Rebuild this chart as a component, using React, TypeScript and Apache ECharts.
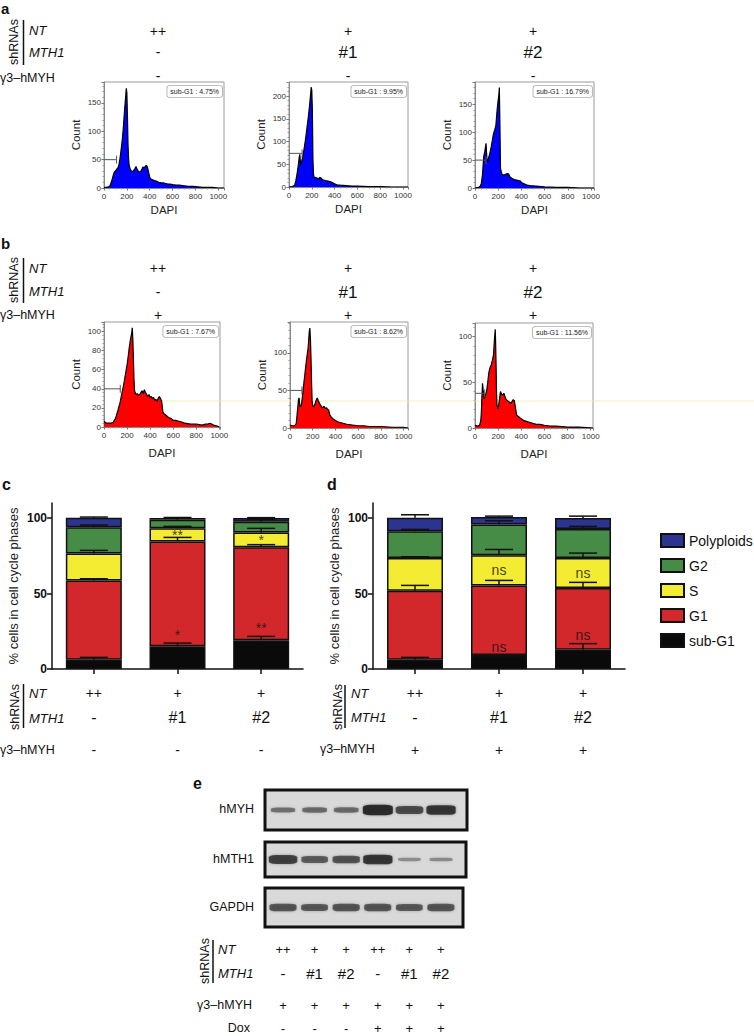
import React, { useEffect, useRef } from "react";
import * as echarts from "echarts";

const FONT = "Liberation Sans";

// ---------- Panel a / b : DNA content histograms [DAPI, Count] ----------
const histA1 = [[0,1],[20,1],[40,2],[50,3],[60,8],[70,14],[80,22],[90,28],[100,30],[110,33],[120,35],[130,40],[140,52],[150,68],[160,85],[170,108],[180,138],[185,150],[190,162],[195,176],[200,168],[205,128],[210,78],[215,52],[220,40],[230,33],[240,30],[250,29],[260,31],[270,34],[280,38],[290,33],[300,30],[310,28],[320,29],[330,32],[340,37],[350,35],[360,38],[370,40],[380,37],[390,28],[400,19],[410,16],[420,15],[440,13],[460,12],[480,10],[500,9],[520,9],[540,8],[560,7],[580,7],[600,6],[630,5],[660,5],[700,4],[740,3],[780,3],[820,2],[860,1],[900,1],[950,1],[1000,0],[1050,0]];
const histA2 = [[0,0],[30,1],[50,4],[60,14],[70,28],[80,45],[90,66],[95,72],[100,55],[105,48],[110,55],[120,66],[130,80],[140,96],[150,115],[160,135],[170,155],[180,178],[185,192],[190,205],[195,220],[200,212],[205,170],[210,60],[215,28],[220,22],[240,20],[260,18],[270,21],[280,20],[290,17],[300,15],[320,14],[340,13],[360,12],[380,10],[400,7],[420,5],[450,4],[500,3],[550,2],[600,2],[700,1],[800,1],[900,0],[1044,0]];
const histA3 = [[0,0],[30,1],[45,3],[55,8],[65,25],[75,56],[85,66],[95,80],[100,62],[105,45],[110,48],[120,56],[130,64],[140,74],[150,86],[160,98],[170,104],[180,112],[190,138],[200,158],[205,165],[210,180],[215,110],[220,35],[230,26],[240,23],[260,24],[280,26],[290,25],[300,20],[320,17],[340,15],[360,14],[380,13],[390,13],[400,10],[420,8],[450,5],[480,4],[500,4],[550,3],[600,2],[700,1],[800,1],[900,0],[1026,0]];
const histB1 = [[0,6],[20,4],[40,4],[60,4],[80,5],[100,9],[120,17],[140,26],[150,32],[160,38],[170,44],[180,51],[190,58],[200,65],[210,74],[220,84],[230,92],[240,98],[245,104],[250,92],[255,72],[260,50],[265,38],[270,36],[280,34],[290,35],[300,33],[310,34],[320,36],[330,38],[340,35],[350,39],[360,36],[370,34],[380,32],[390,34],[400,31],[410,32],[420,30],[430,31],[440,28],[450,29],[460,27],[470,30],[480,32],[490,30],[500,27],[505,22],[510,16],[520,14],[540,12],[560,10],[580,9],[600,7],[620,7],[650,6],[680,5],[700,4],[750,3],[800,3],[850,2],[880,3],[900,3],[920,4],[950,2],[980,1],[1000,0]];
const histB2 = [[0,4],[20,3],[40,3],[55,6],[65,22],[75,38],[80,40],[85,32],[90,28],[100,30],[110,42],[120,57],[130,70],[140,84],[150,96],[160,107],[165,118],[170,129],[175,133],[180,118],[185,93],[190,60],[195,35],[200,30],[210,28],[220,32],[230,37],[240,40],[250,36],[260,33],[270,30],[280,28],[290,27],[300,29],[310,26],[320,27],[330,25],[340,24],[350,18],[360,15],[380,12],[400,10],[425,8],[450,7],[475,6],[500,5],[550,4],[600,3],[650,3],[700,2],[800,2],[900,1],[1000,1],[1039,0]];
const histB3 = [[0,3],[20,2],[40,3],[50,8],[55,17],[60,35],[65,49],[70,42],[80,32],[90,36],[100,40],[110,50],[120,61],[130,66],[140,69],[150,74],[160,80],[165,91],[170,100],[175,108],[178,95],[182,70],[186,40],[190,25],[200,21],[210,30],[220,40],[230,37],[240,36],[250,38],[260,34],[270,31],[280,30],[290,29],[300,28],[310,27],[320,29],[330,31],[340,30],[350,22],[360,14],[380,12],[400,10],[425,8],[450,7],[475,6],[500,5],[530,4],[560,4],[600,3],[650,2],[700,2],[800,1],[900,1],[1020,0]];

const subG1Labels = ["4.75%", "9.95%", "16.79%", "7.67%", "8.62%", "11.56%"];
// sub-G1 gate: [upper DAPI bound, count level of the marker]
const gates = [[110, 50], [115, 74], [95, 50], [141, 40], [105, 50], [84, 38]];

const headNT = ["++", "+", "+"];
const headMTH1 = ["-", "#1", "#2"];
const headHmyhA = ["-", "-", "-"];
const headHmyhB = ["+", "+", "+"];

// ---------- Panel c / d : cell cycle phases (%) ----------
const barCats = ["ctrl", "sh1", "sh2"];
const phaseNames = ["sub-G1", "G1", "S", "G2", "Polyploids"];
const phaseColors = ["#0a0a0a", "#d2282b", "#f4ec32", "#478c46", "#2b3590"];

const cSubG1 = [6.2, 15.0, 19.0];
const cG1 = [52.5, 69.5, 61.6];
const cS = [17.9, 8.7, 9.9];
const cG2 = [17.4, 5.7, 7.1];
const cPoly = [6.2, 1.1, 2.4];
const cSubG1Err = [1.5, 2.2, 2.6];
const cG1Err = [1.1, 2.7, 1.8];
const cSErr = [2.0, 1.3, 2.7];
const cG2Err = [1.4, 1.5, 1.6];
const cPolyErr = [0.5, 0.0, 0.3];
const cSigG1 = ["", "*", "**"];
const cSigS = ["", "**", "*"];

const dSubG1 = [6.2, 9.3, 12.8];
const dG1 = [45.7, 46.1, 40.8];
const dS = [21.6, 19.9, 19.9];
const dG2 = [17.7, 20.5, 19.2];
const dPoly = [9.0, 4.9, 7.3];
const dSubG1Err = [1.5, 0.0, 4.0];
const dG1Err = [3.5, 3.3, 3.8];
const dSErr = [0.9, 3.9, 3.3];
const dG2Err = [1.3, 2.4, 1.8];
const dPolyErr = [2.0, 0.6, 1.3];
const dSigG1 = ["", "ns", "ns"];
const dSigS = ["", "ns", "ns"];

const barNT = ["++", "+", "+"];
const barMTH1 = ["-", "#1", "#2"];
const barHmyhC = ["-", "-", "-"];
const barHmyhD = ["+", "+", "+"];
const barTicks = [0, 50, 100];

// ---------- Panel e : western blot band intensities (0..1) ----------
const blotNames = ["hMYH", "hMTH1", "GAPDH"];
const blotMYH = [0.3, 0.35, 0.35, 1.0, 0.7, 0.9];
const blotMTH1 = [0.8, 0.55, 0.65, 0.9, 0.1, 0.12];
const blotGAPDH = [0.62, 0.58, 0.62, 0.62, 0.58, 0.62];
const eNT = ["++", "+", "+", "++", "+", "+"];
const eMTH1 = ["-", "#1", "#2", "-", "#1", "#2"];
const eHmyh = ["+", "+", "+", "+", "+", "+"];
const eDox = ["-", "-", "-", "+", "+", "+"];

// ---------- layout ----------
const HIST = [
  { left: 104, top: 82, width: 120, height: 106, xMax: 1050, yMax: 187, yInt: 50, fill: "#0000ff" },
  { left: 289, top: 82, width: 119, height: 105, xMax: 1044, yMax: 231, yInt: 50, fill: "#0000ff" },
  { left: 475, top: 82, width: 119, height: 106, xMax: 1026, yMax: 190, yInt: 50, fill: "#0000ff" },
  { left: 104, top: 322, width: 116, height: 105, xMax: 1006, yMax: 110, yInt: 20, fill: "#ff0000" },
  { left: 290, top: 322, width: 118, height: 106, xMax: 1039, yMax: 141, yInt: 50, fill: "#ff0000" },
  { left: 475, top: 323, width: 118, height: 105, xMax: 1020, yMax: 115, yInt: 50, fill: "#ff0000" },
];
const BARS = [
  { left: 52, top: 503, width: 251, height: 166 },
  { left: 373, top: 503, width: 252, height: 166 },
];
const BLOTS = [
  { left: 265, top: 790, width: 202, height: 40, xMax: 6.82 },
  { left: 265, top: 842, width: 201, height: 35, xMax: 6.79 },
  { left: 265, top: 888, width: 198, height: 39, xMax: 6.7 },
];

function txt(text: string, x: number, y: number, o: any = {}) {
  return {
    type: "text",
    x,
    y,
    rotation: o.rot || 0,
    z: 10,
    style: {
      text,
      fontFamily: FONT,
      fontSize: o.size || 13,
      fontStyle: o.italic ? "italic" : "normal",
      fontWeight: o.bold ? "bold" : "normal",
      fill: o.fill || "#111",
      align: o.align || "left",
      verticalAlign: "middle",
    },
  };
}
function vline(x: number, y1: number, y2: number, w = 1.5, c = "#111") {
  return { type: "line", z: 10, shape: { x1: x, y1, x2: x, y2 }, style: { stroke: c, lineWidth: w } };
}
function shrnaBlock(shX: number, shY: number, lineX: number, l1: number, l2: number, tx: number, yNT: number, yM: number) {
  return [
    txt("shRNAs", shX, shY, { rot: Math.PI / 2, align: "center", size: 12.5 }),
    vline(lineX, l1, l2),
    txt("NT", tx, yNT, { italic: true, size: 13 }),
    txt("MTH1", tx, yM, { italic: true, size: 13 }),
  ];
}

export default function App() {
  const ref = useRef<HTMLDivElement>(null);

  useEffect(() => {
    if (!ref.current) return;
    const chart = echarts.init(ref.current, null, { renderer: "svg" });

    const histData = [histA1, histA2, histA3, histB1, histB2, histB3];
    const grids: any[] = [];
    const xAxes: any[] = [];
    const yAxes: any[] = [];
    const series: any[] = [];
    const graphic: any[] = [];

    // ---- histograms ----
    HIST.forEach((h, i) => {
      grids.push({ left: h.left, top: h.top, width: h.width, height: h.height, show: true, borderColor: "#9a9a9a", borderWidth: 1, backgroundColor: "#fff" });
      xAxes.push({
        gridIndex: i, type: "value", min: 0, max: h.xMax, interval: 200,
        axisLine: { show: true, lineStyle: { color: "#888", width: 1 } },
        axisTick: { show: true, length: 2.5, lineStyle: { color: "#777" } },
        minorTick: { show: true, splitNumber: 4, length: 1.5, lineStyle: { color: "#999" } },
        axisLabel: { fontSize: 8, color: "#333", margin: 4, showMaxLabel: false, fontFamily: FONT, formatter: (v: number) => String(v) },
        splitLine: { show: false },
        name: "DAPI", nameLocation: "middle", nameGap: i < 3 ? 16 : 20,
        nameTextStyle: { fontSize: 11.5, color: "#222", fontFamily: FONT },
      });
      yAxes.push({
        gridIndex: i, type: "value", min: 0, max: h.yMax, interval: h.yInt,
        axisLine: { show: true, lineStyle: { color: "#888", width: 1 } },
        axisTick: { show: true, length: 2.5, lineStyle: { color: "#777" } },
        minorTick: { show: true, splitNumber: 5, length: 1.5, lineStyle: { color: "#999" } },
        axisLabel: { fontSize: 8, color: "#333", margin: 3, showMaxLabel: false, fontFamily: FONT },
        splitLine: { show: false },
        name: "Count", nameLocation: "middle", nameGap: 22,
        nameTextStyle: { fontSize: 11.5, color: "#222", fontFamily: FONT },
      });
      series.push({
        type: "line", xAxisIndex: i, yAxisIndex: i, data: histData[i], showSymbol: false, symbol: "none",
        lineStyle: { color: "#000", width: 1.2 }, areaStyle: { color: h.fill, opacity: 1 }, z: 2, silent: true,
      });
      const g = gates[i];
      const half = (4 * h.yMax) / h.height;
      series.push({
        type: "line", xAxisIndex: i, yAxisIndex: i, data: [[0, g[1]], [g[0], g[1]]], symbol: "none",
        lineStyle: { color: "#555", width: 1 }, z: 3, silent: true,
      });
      series.push({
        type: "line", xAxisIndex: i, yAxisIndex: i, data: [[g[0], g[1] - half], [g[0], g[1] + half]], symbol: "none",
        lineStyle: { color: "#555", width: 1 }, z: 3, silent: true,
      });
      graphic.push({
        type: "text", x: h.left + h.width - 2, y: h.top + 4, z: 10,
        style: {
          text: "sub-G1 : " + subG1Labels[i], fontFamily: FONT, fontSize: 7, fill: "#222",
          align: "right", verticalAlign: "top", backgroundColor: "#fff", borderColor: "#aaa",
          borderWidth: 0.8, borderRadius: 2, padding: [2, 3],
        },
      });
    });

    // ---- stacked bars ----
    const barSets = [
      { vals: [cSubG1, cG1, cS, cG2, cPoly], errs: [cSubG1Err, cG1Err, cSErr, cG2Err, cPolyErr], sigG1: cSigG1, sigS: cSigS, hmyh: barHmyhC },
      { vals: [dSubG1, dG1, dS, dG2, dPoly], errs: [dSubG1Err, dG1Err, dSErr, dG2Err, dPolyErr], sigG1: dSigG1, sigS: dSigS, hmyh: barHmyhD },
    ];
    barSets.forEach((set, k) => {
      const gi = 6 + k;
      const b = BARS[k];
      grids.push({ left: b.left, top: b.top, width: b.width, height: b.height });
      xAxes.push({
        gridIndex: gi, type: "category", data: barCats,
        axisLine: { show: true, lineStyle: { color: "#111", width: 1.5 } },
        axisTick: { show: true, alignWithLabel: true, length: 5, lineStyle: { color: "#111", width: 1.5 } },
        axisLabel: {
          interval: 0, margin: 13, fontFamily: FONT,
          formatter: (_v: string, idx: number) => `{n|${barNT[idx]}}\n{m|${barMTH1[idx]}}\n{g|${set.hmyh[idx]}}`,
          rich: {
            n: { fontSize: 14, lineHeight: 22, color: "#111", fontFamily: FONT },
            m: { fontSize: 16, lineHeight: 26, color: "#111", fontFamily: FONT },
            g: { fontSize: 14, lineHeight: 40, color: "#111", fontFamily: FONT },
          },
        },
      });
      yAxes.push({
        gridIndex: gi, type: "value", min: 0, max: 110, interval: 50,
        axisLine: { show: true, lineStyle: { color: "#111", width: 1.5 } },
        axisTick: { show: true, length: 5, lineStyle: { color: "#111", width: 1.5 }, customValues: barTicks },
        axisLabel: { fontSize: 12, fontWeight: "bold", color: "#111", margin: 5, customValues: barTicks, fontFamily: FONT },
        splitLine: { show: false },
        name: "% cells in cell cycle phases", nameLocation: "middle", nameGap: 32,
        nameTextStyle: { fontSize: 13, color: "#222", fontFamily: FONT },
      });
      set.vals.forEach((v, p) => {
        series.push({
          type: "bar", name: phaseNames[p], stack: "s" + k, xAxisIndex: gi, yAxisIndex: gi, data: v,
          barWidth: 56, itemStyle: { color: phaseColors[p], borderColor: "#111", borderWidth: 1.5 }, z: 2,
        });
      });
      // error bars (upward from each cumulative top)
      const errData: number[][] = [];
      const cum = [0, 0, 0];
      set.vals.forEach((v, p) => {
        v.forEach((val, i) => {
          cum[i] += val;
          errData.push([i, cum[i], set.errs[p][i]]);
        });
      });
      series.push({
        type: "custom", xAxisIndex: gi, yAxisIndex: gi, data: errData, z: 4, silent: true,
        renderItem: (_params: any, api: any) => {
          const x = api.value(0), top = api.value(1), err = api.value(2);
          if (!(err > 0)) return null;
          const p0 = api.coord([x, top]);
          const p1 = api.coord([x, top + err]);
          const st = { stroke: "#111", lineWidth: 1.5 };
          return {
            type: "group",
            children: [
              { type: "line", shape: { x1: p0[0], y1: p0[1], x2: p1[0], y2: p1[1] }, style: st },
              { type: "line", shape: { x1: p1[0] - 14, y1: p1[1], x2: p1[0] + 14, y2: p1[1] }, style: st },
            ],
          };
        },
      });
      // significance annotations
      const sig: any[] = [];
      [0, 1, 2].forEach((i) => {
        const sub = set.vals[0][i];
        const g1Top = sub + set.vals[1][i];
        const sTop = g1Top + set.vals[2][i];
        if (set.sigG1[i]) sig.push({ name: set.sigG1[i], value: [i, sub + set.errs[0][i] + 5.5] });
        if (set.sigS[i]) sig.push({ name: set.sigS[i], value: [i, (g1Top + sTop) / 2] });
      });
      series.push({
        type: "scatter", xAxisIndex: gi, yAxisIndex: gi, data: sig, symbolSize: 1, z: 5, silent: true,
        itemStyle: { color: "rgba(0,0,0,0)" },
        label: {
          show: true, position: "inside", formatter: "{b}", fontSize: 14, color: "#111", fontFamily: FONT,
        },
      });
    });

    // ---- western blot ----
    const blotVals = [blotMYH, blotMTH1, blotGAPDH];
    BLOTS.forEach((bl, k) => {
      const gi = 8 + k;
      const last = k === 2;
      grids.push({ left: bl.left, top: bl.top, width: bl.width, height: bl.height, show: true, backgroundColor: "#d9d9d9", borderColor: "#111", borderWidth: 3 });
      xAxes.push({
        gridIndex: gi, type: "value", min: 0.43, max: bl.xMax, splitNumber: 6, show: last,
        axisLine: { show: false }, axisTick: { show: false }, splitLine: { show: false },
        axisLabel: {
          show: last, margin: 11, customValues: [1, 2, 3, 4, 5, 6], showMinLabel: true, showMaxLabel: true,
          formatter: (v: number) => {
            const idx = Math.round(v) - 1;
            if (Math.abs(v - Math.round(v)) > 1e-6 || idx < 0 || idx > 5) return "";
            return `{n|${eNT[idx]}}\n{m|${eMTH1[idx]}}\n{g|${eHmyh[idx]}}\n{d|${eDox[idx]}}`;
          },
          rich: {
            n: { fontSize: 13, lineHeight: 22, color: "#111", fontFamily: FONT },
            m: { fontSize: 15, lineHeight: 26, color: "#111", fontFamily: FONT },
            g: { fontSize: 13, lineHeight: 38, color: "#111", fontFamily: FONT },
            d: { fontSize: 13, lineHeight: 8, color: "#111", fontFamily: FONT },
          },
        },
      });
      yAxes.push({ gridIndex: gi, type: "value", min: 0, max: 1, show: false, splitLine: { show: false } });
      series.push({
        type: "scatter", xAxisIndex: gi, yAxisIndex: gi, symbol: "roundRect", z: 3, silent: true,
        data: blotVals[k].map((v, i) => ({
          value: [i + 1, 0.5],
          symbolSize: [22 + 8 * v, 2.5 + 8 * v],
          itemStyle: { color: `rgba(15,15,15,${(0.3 + 0.7 * v).toFixed(2)})`, shadowBlur: 3, shadowColor: "rgba(0,0,0,0.45)" },
        })),
      });
      graphic.push(txt(blotNames[k], 254, bl.top + bl.height / 2 - 1, { align: "right", size: 12.5 }));
    });

    // ---- texts / decorations ----
    graphic.push(txt("a", 1, 8, { bold: true, size: 15 }));
    graphic.push(txt("b", 1, 243, { bold: true, size: 15 }));
    graphic.push(txt("c", 2, 484, { bold: true, size: 16 }));
    graphic.push(txt("d", 327, 484, { bold: true, size: 16 }));
    graphic.push(txt("e", 193, 783, { bold: true, size: 16 }));

    const colX = [158, 348, 533];
    const headRows = [
      { y: [31, 52, 76], hmyh: headHmyhA, block: [14, 42, 23.5, 20, 65, 29, 30, 52], g: 78 },
      { y: [268, 292, 315], hmyh: headHmyhB, block: [14, 280, 23.5, 258, 303, 29, 268, 291], g: 315 },
    ];
    headRows.forEach((r) => {
      const bk = r.block;
      graphic.push(...shrnaBlock(bk[0], bk[1], bk[2], bk[3], bk[4], bk[5], bk[6], bk[7]));
      graphic.push(txt("γ3–hMYH", 0, r.g, { size: 12.5 }));
      colX.forEach((x, i) => {
        graphic.push(txt(headNT[i], x, r.y[0], { align: "center", size: 14 }));
        graphic.push(txt(headMTH1[i], x, r.y[1], { align: "center", size: headMTH1[i] === "-" ? 14 : 17 }));
        graphic.push(txt(r.hmyh[i], x, r.y[2], { align: "center", size: 14 }));
      });
    });

    graphic.push(...shrnaBlock(15, 707, 23.5, 684, 728, 29, 693, 718));
    graphic.push(txt("γ3–hMYH", 0, 750, { size: 12.5 }));
    graphic.push(...shrnaBlock(338, 707, 345, 685, 728, 351, 693, 717));
    graphic.push(txt("γ3–hMYH", 320, 749, { size: 12.5 }));

    graphic.push(...shrnaBlock(205, 961, 213, 940, 983, 218, 949, 973));
    graphic.push(txt("γ3–hMYH", 252, 1005, { align: "right", size: 12.5 }));
    graphic.push(txt("Dox", 250, 1028, { align: "right", size: 12.5 }));

    graphic.push({ type: "line", z: 1, shape: { x1: 150, y1: 401, x2: 754, y2: 401 }, style: { stroke: "#f1eca2", lineWidth: 0.8 } });

    const option: any = {
      animation: false,
      backgroundColor: "#ffffff",
      textStyle: { fontFamily: FONT },
      grid: grids,
      xAxis: xAxes,
      yAxis: yAxes,
      legend: {
        data: ["Polyploids", "G2", "S", "G1", "sub-G1"],
        orient: "vertical", left: 655, top: 528, itemWidth: 23, itemHeight: 13, itemGap: 10,
        icon: "rect", selectedMode: false,
        textStyle: { fontSize: 14, color: "#111", fontFamily: FONT },
      },
      series,
      graphic,
    };
    chart.setOption(option);
    return () => chart.dispose();
  }, []);

  return <div ref={ref} style={{ position: "absolute", left: 0, top: 0, width: 754, height: 1036 }} />;
}
